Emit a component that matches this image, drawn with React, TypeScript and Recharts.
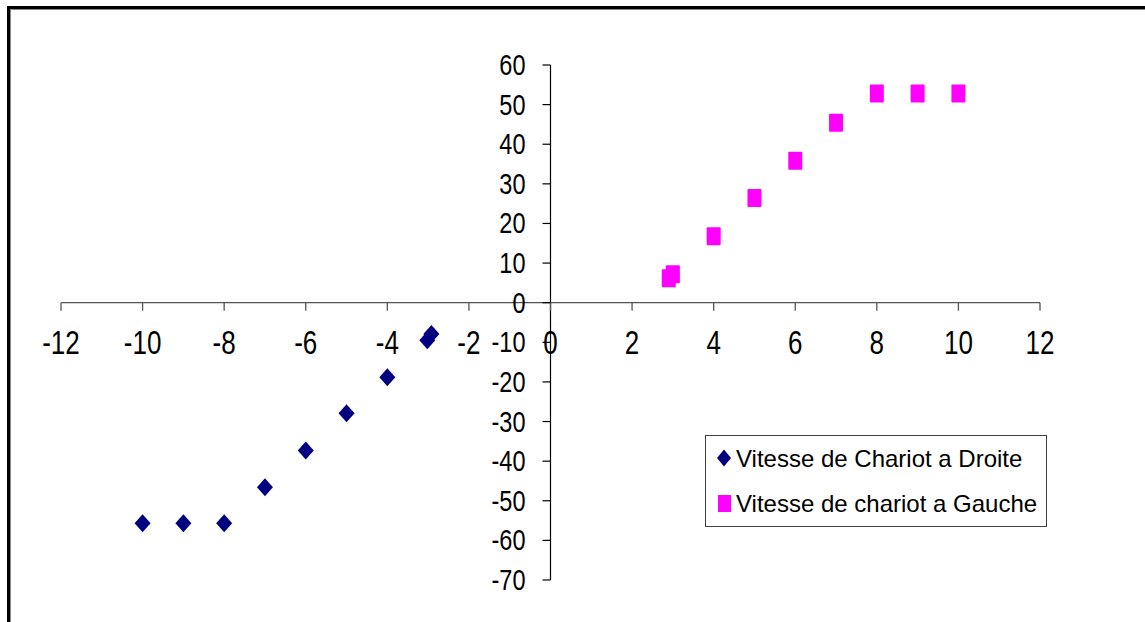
import React from 'react'
import { ScatterChart, Scatter, XAxis, YAxis, ReferenceLine, Legend } from 'recharts'

const droiteX = [-10, -9, -8, -7, -6, -5, -4, -3.02, -2.92]
const droiteY = [-55.7, -55.7, -55.7, -46.6, -37.3, -27.9, -18.8, -9.5, -7.9]
const gaucheX = [2.9, 3.0, 4, 5, 6, 7, 8, 9, 10]
const gaucheY = [6.2, 7.2, 16.8, 26.4, 35.8, 45.4, 52.8, 52.8, 52.8]

const xTicks = [-12, -10, -8, -6, -4, -2, 0, 2, 4, 6, 8, 10, 12]
const yTicks = [-70, -60, -50, -40, -30, -20, -10, 0, 10, 20, 30, 40, 50, 60]

const droite = droiteX.map((x, i) => ({ x, y: droiteY[i] }))
const gauche = gaucheX.map((x, i) => ({ x, y: gaucheY[i] }))

const W = 1145
const H = 622
const margin = { top: 65, right: 105, bottom: 12, left: 21 }
const yAxisW = 40
const xAxisH = 30
const xMin = -12
const xMax = 12
const yMin = -70
const yMax = 60

// where the axes cross (value 0), from the plot box and domains
const plotLeft = margin.left + yAxisW
const plotW = W - plotLeft - margin.right
const plotH = H - margin.top - margin.bottom - xAxisH
const zeroX = plotLeft + (plotW * (0 - xMin)) / (xMax - xMin)
const zeroY = margin.top + (plotH * (yMax - 0)) / (yMax - yMin)

const font = '"Liberation Sans", Arial, sans-serif'

const XTick = (props: any) => {
  const { x, payload } = props
  return (
    <g>
      <line x1={x} x2={x} y1={zeroY} y2={zeroY + 8} stroke="#555" strokeWidth={1.3} />
      <text
        transform={`translate(${x},${zeroY + 51}) scale(1,1.25)`}
        textAnchor="middle"
        fontSize={26}
        fontFamily={font}
        fill="#000"
      >
        {payload.value}
      </text>
    </g>
  )
}

const YTick = (props: any) => {
  const { y, payload } = props
  return (
    <g>
      <line x1={zeroX - 8} x2={zeroX} y1={y} y2={y} stroke="#000" strokeWidth={1.2} />
      <text
        transform={`translate(${zeroX - 25},${y + 10}) scale(1,1.28)`}
        textAnchor="end"
        fontSize={23.5}
        fontFamily={font}
        fill="#000"
      >
        {payload.value}
      </text>
    </g>
  )
}

const Diamond = (props: any) => {
  const { cx, cy } = props
  return (
    <polygon
      points={`${cx},${cy - 9} ${cx + 8},${cy} ${cx},${cy + 9} ${cx - 8},${cy}`}
      fill="#000080"
    />
  )
}

const Square = (props: any) => {
  const { cx, cy } = props
  return <rect x={cx - 7} y={cy - 9} width={14} height={18} rx={1} fill="#FF00FF" />
}

const LegendBox = () => (
  <div
    style={{
      position: 'relative',
      width: '100%',
      height: '100%',
      boxSizing: 'border-box',
      border: '1px solid #404040',
      background: '#fff',
      fontFamily: font,
      fontSize: 24,
      lineHeight: '24px',
      color: '#000',
    }}
  >
    <svg style={{ position: 'absolute', left: 11, top: 13 }} width={15} height={18}>
      <polygon points="7,0.5 14,9 7,17.5 0,9" fill="#000080" />
    </svg>
    <span style={{ position: 'absolute', left: 30, top: 11, whiteSpace: 'nowrap' }}>
      Vitesse de Chariot a Droite
    </span>
    <svg style={{ position: 'absolute', left: 12, top: 59 }} width={14} height={18}>
      <rect x={0} y={0} width={13} height={17} fill="#FF00FF" />
    </svg>
    <span style={{ position: 'absolute', left: 30, top: 56, whiteSpace: 'nowrap' }}>
      Vitesse de chariot a Gauche
    </span>
  </div>
)

export default function App() {
  return (
    <div
      style={{
        position: 'absolute',
        left: 0,
        top: 0,
        width: W,
        height: H,
        overflow: 'hidden',
        background: '#fff',
      }}
    >
      <div
        style={{
          position: 'absolute',
          left: 7,
          top: 6,
          width: 1300,
          height: 800,
          borderTop: '3px solid #000',
          borderLeft: '3px solid #000',
        }}
      >
        <div
          style={{
            width: '100%',
            height: '100%',
            borderTop: '1px solid #888',
            borderLeft: '1px solid #888',
          }}
        />
      </div>
      <div style={{ position: 'absolute', left: 0, top: 0 }}>
        <ScatterChart width={W} height={H} margin={margin}>
          <XAxis
            type="number"
            dataKey="x"
            domain={[xMin, xMax]}
            ticks={xTicks}
            height={xAxisH}
            axisLine={false}
            tickLine={false}
            tick={<XTick />}
            interval={0}
            allowDataOverflow
          />
          <YAxis
            type="number"
            dataKey="y"
            domain={[yMin, yMax]}
            ticks={yTicks}
            width={yAxisW}
            axisLine={false}
            tickLine={false}
            tick={<YTick />}
            interval={0}
            allowDataOverflow
          />
          <ReferenceLine y={0} stroke="#555" strokeWidth={1.3} />
          <ReferenceLine x={0} stroke="#000" strokeWidth={1.2} />
          <Scatter
            name="Vitesse de Chariot a Droite"
            data={droite}
            shape={<Diamond />}
            isAnimationActive={false}
          />
          <Scatter
            name="Vitesse de chariot a Gauche"
            data={gauche}
            shape={<Square />}
            isAnimationActive={false}
          />
          <Legend
            layout="vertical"
            align="center"
            verticalAlign="middle"
            content={<LegendBox />}
            wrapperStyle={{ left: 705, top: 435, width: 342, height: 92 }}
          />
        </ScatterChart>
      </div>
    </div>
  )
}
